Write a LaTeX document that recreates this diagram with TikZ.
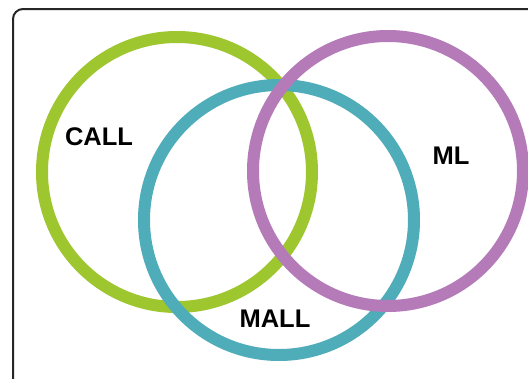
\documentclass[tikz,border=0pt]{standalone}
\usepackage{xcolor}
\usepackage{fontspec}
\setmainfont{Liberation Sans}
\usepackage{tikz}
\usetikzlibrary{positioning}

\definecolor{callgreen}{HTML}{9DC62F}
\definecolor{mallteal}{HTML}{4FACB9}
\definecolor{mlpurple}{HTML}{B57BB8}

\begin{document}
\begin{tikzpicture}[
x=1pt, y=-1pt,
every node/.style={font=\fontsize{25.5}{28}\selectfont\bfseries},
ring/.style={
    circle,
    line width=12pt,
    inner sep=0pt,
    minimum size=270pt
},
label/.style={
    text=black,
    inner sep=0pt
}
]

\clip (0,0) rectangle (528,378);
\fill[white] (0,0) rectangle (528,378);

% frame
\draw[line width=2pt, rounded corners=10pt, black!85] (13,9) rectangle (540,392);

\node (call) [ring, draw=callgreen] at (177,172) {};
\node (mall) [ring, draw=mallteal] at (279,220) {};
\node (ml) [ring, draw=mlpurple] at (388,171) {};

\node (calltext) [label] at (99,137) {CALL};
\node (malltext) [label] at (275,319) {MALL};
\node (mltext) [label] at (451,156) {ML};

\end{tikzpicture}
\end{document}
